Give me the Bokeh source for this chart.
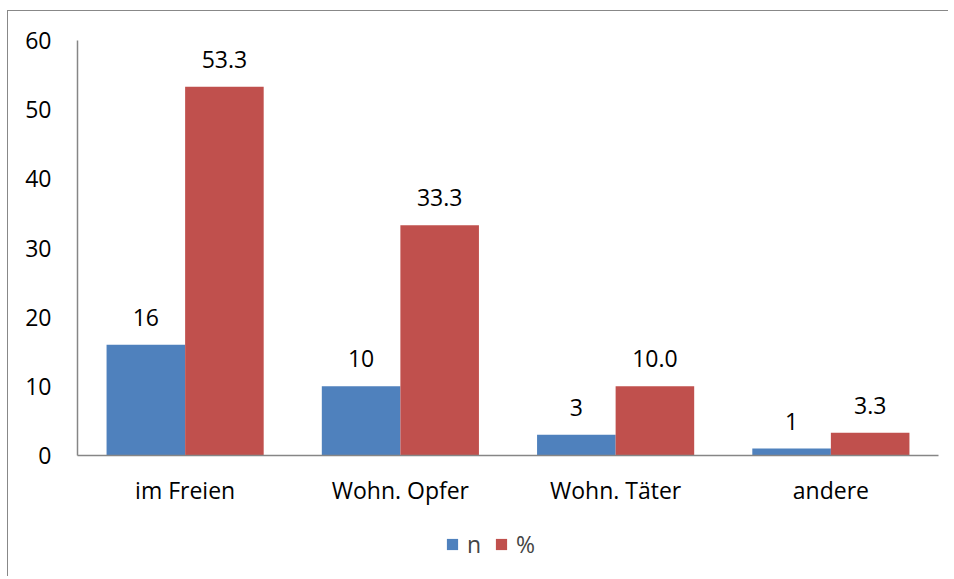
from bokeh.plotting import figure
from bokeh.layouts import column, row
from bokeh.models import (ColumnDataSource, FactorRange, Legend, LegendItem, FixedTicker,
                          LabelSet, Spacer)
from bokeh.transform import dodge
from bokeh.core.properties import value
from bokeh.embed import file_html
from bokeh.resources import INLINE

categories = ["im Freien", "Wohn. Opfer", "Wohn. Täter", "andere"]
n_values = [16, 10, 3, 1]
pct_values = [53.3, 33.3, 10.0, 3.3]
n_labels = ["16", "10", "3", "1"]
pct_labels = ["53.3", "33.3", "10.0", "3.3"]
y_ticks = [0, 10, 20, 30, 40, 50, 60]
series_names = ["n", "%"]

FONT = "Open Sans"
FS = "23px"
BLUE = "#4F81BD"
RED = "#C0504D"
AXIS = "#868686"
BORDER = "#888888"

src = ColumnDataSource(dict(cat=categories, n=n_values, pct=pct_values,
                            nl=n_labels, pl=pct_labels))

p = figure(x_range=FactorRange(*categories), y_range=(0, 60),
           width=940, height=504, output_backend="svg", toolbar_location=None,
           min_border_left=69, min_border_right=10, min_border_top=29,
           min_border_bottom=60)
p.outline_line_color = None
p.xgrid.grid_line_color = None
p.ygrid.grid_line_color = None

w = 0.365
p.vbar(x=dodge("cat", -w / 2, range=p.x_range), top="n", width=w, source=src,
       fill_color=BLUE, line_color=None)
p.vbar(x=dodge("cat", w / 2, range=p.x_range), top="pct", width=w, source=src,
       fill_color=RED, line_color=None)

for col, lab, off in (("n", "nl", -w / 2), ("pct", "pl", w / 2)):
    ls = LabelSet(x=dodge("cat", off, range=p.x_range), y=col, text=lab, source=src,
                  text_align="center", text_baseline="bottom", y_offset=19,
                  text_font=value(FONT), text_font_size=FS, text_color="#000000")
    p.add_layout(ls)

p.yaxis.ticker = FixedTicker(ticks=y_ticks)
for ax in (p.xaxis, p.yaxis):
    ax.axis_line_color = AXIS
    ax.axis_line_width = 1.5
    ax.major_tick_line_color = None
    ax.minor_tick_line_color = None
    ax.major_label_text_font = FONT
    ax.major_label_text_font_size = FS
    ax.major_label_text_color = "#000000"
p.yaxis.major_label_standoff = 20
p.xaxis.major_label_standoff = 12

# legend strip below the plot
q = figure(x_range=(0, 1), y_range=(0, 1), width=940, height=61,
           output_backend="svg", toolbar_location=None,
           x_axis_location=None, y_axis_location=None,
           min_border_left=0, min_border_right=0, min_border_top=0, min_border_bottom=0)
q.outline_line_color = None
q.xgrid.grid_line_color = None
q.ygrid.grid_line_color = None
dn = q.rect(x=[-10], y=[-10], width=0.1, height=0.1, fill_color=BLUE, line_color=None)
dp = q.rect(x=[-10], y=[-10], width=0.1, height=0.1, fill_color=RED, line_color=None)
legend = Legend(items=[LegendItem(label=series_names[0], renderers=[dn]),
                       LegendItem(label=series_names[1], renderers=[dp])],
                orientation="horizontal", location=(368, 16),
                border_line_color=None, background_fill_alpha=0,
                glyph_width=14, glyph_height=14, label_text_font=FONT,
                label_text_font_size=FS, spacing=13, label_standoff=8,
                label_width=0, margin=0, padding=0)
q.add_layout(legend)

left_line = Spacer(width=1, height=566, styles={"background-color": BORDER})
top_line = Spacer(width=940, height=1, styles={"background-color": BORDER})

layout = row(left_line,
             column(top_line, p, q, spacing=0, styles={"overflow": "hidden"}),
             spacing=0,
             styles={"margin-left": "7px", "margin-top": "10px", "overflow": "hidden"})

open("out.html", "w").write(file_html(layout, INLINE))
